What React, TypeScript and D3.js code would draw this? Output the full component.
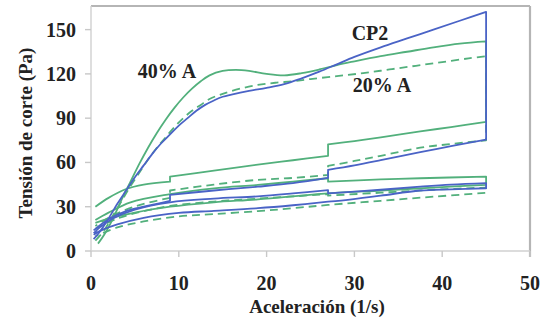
import React from 'react';
import * as d3 from 'd3';

// tick values
const xTicks = [0, 10, 20, 30, 40, 50];
const yTicks = [0, 30, 60, 90, 120, 150];

// CP2 (blue) - first cycle: up ramp, then down ramp with holds at 27 and 9 1/s
const cp2Up = [[0.3, 8], [1, 13], [2, 22], [3, 32], [4, 41], [5, 50], [6, 58], [7, 66], [8, 73], [9, 79], [10, 85], [11, 90], [12, 95], [13, 99], [14, 102], [15, 104.5], [16, 106], [18, 108.5], [20, 110.5], [22, 113], [24, 117], [26, 121.5], [28, 126.5], [30, 131.5], [33, 138], [36, 144], [39, 150], [42, 156], [45, 162]];
const cp2DownA = [[45, 75.5], [41, 71], [37.5, 67], [33, 61.5], [30, 58], [27, 55]];
const cp2DownB = [[27, 49.5], [23, 46], [19, 43.6], [14, 41], [9, 38]];
const cp2DownC = [[9, 34], [6, 30], [4, 27], [2, 21.5], [0.3, 14]];
// CP2 second cycle
const cp2Up2A = [[0.3, 12], [1, 16], [2.5, 22], [5, 28], [9, 33], [14, 35.5], [19, 37], [23, 39], [27, 41.3]];
const cp2Up2B = [[27, 39], [33, 41.5], [37.5, 43.6], [41, 45], [45, 46]];
const cp2Down2 = [[45, 42.5], [41, 41.8], [37.5, 41], [33, 37.5], [29, 34.5], [27, 33.4], [23, 31], [19, 29], [14, 27.2], [10, 25.8], [6, 22.5], [3, 18], [1, 13.5], [0.3, 11]];

// 40% A (green solid)
const a40Up = [[0.8, 5], [1.5, 11], [2.5, 22], [3.5, 35], [4.5, 47], [5.5, 59], [6.5, 70], [7.5, 80], [8.5, 89], [9.5, 97], [10.5, 104], [11.5, 110], [12.5, 115], [13.5, 119], [15, 122], [16.5, 122.7], [18, 122], [20, 120], [22, 119], [24, 120.5], [26, 123], [28, 126], [30, 128.5], [33, 132], [36, 135], [39, 138], [42, 140.5], [45, 142]];
const a40DownA = [[45, 87.5], [41, 84], [37.5, 81], [33, 77], [30, 74.5], [27, 72.3]];
const a40DownB = [[27, 64.4], [23, 61.5], [19, 58.5], [14, 54.5], [9, 50.4]];
const a40DownC = [[9, 47], [6, 45], [4, 42], [2, 36], [0.5, 30]];
const a40Up2A = [[0.5, 21], [2, 26], [4.5, 33], [9, 38.5], [14, 42.5], [19, 44.8], [23, 47], [27, 49.3]];
const a40Up2B = [[27, 47], [33, 48.5], [37.5, 49.3], [45, 50.4]];
const a40Down2 = [[45, 44.8], [39, 43], [33, 41], [27, 39], [19, 35], [14, 33], [9, 30], [5, 26], [2, 22], [0.5, 19]];

// 20% A (green dashed)
const a20Up = [[0.5, 7], [1.5, 14], [2.5, 24], [3.5, 34], [4.5, 44], [5.5, 53], [6.5, 62], [7.5, 70], [8.5, 77], [9.5, 84], [10.5, 90], [11.5, 95], [12.5, 99], [13.5, 103], [15, 106.5], [17, 110], [19, 112.5], [21, 114], [23, 115], [25, 116.5], [28, 118.5], [31, 120.5], [34, 123], [37, 125.5], [40, 128], [43, 130.5], [45, 132]];
const a20DownA = [[45, 75], [41, 72.5], [37.5, 70], [33, 64.5], [30, 61], [27, 57.6]];
const a20DownB = [[27, 51.5], [23, 49.5], [19, 48.2], [14, 45], [9, 41]];
const a20DownC = [[9, 36], [6, 32], [4, 28], [2, 22.5], [0.5, 17]];
const a20Up2A = [[0.5, 15], [3, 22], [6, 27], [9, 30.5], [14, 33.5], [19, 35.5], [27, 38.5]];
const a20Up2B = [[27, 37.5], [33, 39.5], [39, 41.5], [45, 43]];
const a20Down2 = [[45, 39.4], [39, 36.8], [33, 34], [27, 31.2], [23, 29], [19, 27], [14, 25], [10, 23.5], [6, 20], [3, 16], [0.5, 10]];

const GREEN = '#52b07c';
const BLUE = '#4a63c6';

const series = [
  { name: '40% A', color: GREEN, dash: null, runs: [[a40Up, a40DownA, a40DownB, a40DownC], [a40Up2A, a40Up2B, a40Down2]] },
  { name: '20% A', color: GREEN, dash: '8,5', runs: [[a20Up, a20DownA, a20DownB, a20DownC], [a20Up2A, a20Up2B, a20Down2]] },
  { name: 'CP2', color: BLUE, dash: null, runs: [[cp2Up, cp2DownA, cp2DownB, cp2DownC], [cp2Up2A, cp2Up2B, cp2Down2]] },
];

const W = 546;
const H = 324;
const left = 91, right = 530, top = 6, bottom = 251;

export default function App() {
  const x = d3.scaleLinear().domain([0, 50]).range([left, right]);
  const y = d3.scaleLinear().domain([0, 166]).range([bottom, top]);

  const smooth = d3.line<number[]>()
    .x(d => x(d[0]))
    .y(d => y(d[1]))
    .curve(d3.curveCatmullRom.alpha(0.5));

  // join segments of a run, straight jumps between them
  const runPath = (segs: number[][][]) => {
    let d = '';
    segs.forEach((s, i) => {
      const p = smooth(s) || '';
      if (i === 0) d += p;
      else d += 'L' + p.slice(1);
    });
    return d;
  };

  const font = 'Times New Roman';

  return (
    <svg width={W} height={H} style={{ position: 'absolute', left: 0, top: 0 }}>
      <rect width={W} height={H} fill="#fff" />
      {/* frame */}
      <line x1={left} x2={right} y1={top} y2={top} stroke="#b5b5b5" strokeWidth={2.2} />
      <line x1={right} x2={right} y1={top} y2={bottom + 6} stroke="#b5b5b5" strokeWidth={2.2} />
      <line x1={left} x2={left} y1={top} y2={bottom} stroke="#d0d0d0" strokeWidth={1.4} />
      <line x1={left} x2={right} y1={bottom} y2={bottom} stroke="#d0d0d0" strokeWidth={1.4} />
      {yTicks.map(t => (
        <g key={'y' + t}>
          <line x1={left - 6} x2={left} y1={y(t)} y2={y(t)} stroke="#c8c8c8" strokeWidth={1.4} />
          <text x={76} y={y(t)} dy="0.35em" textAnchor="end" fontFamily={font} fontWeight="bold" fontSize={20} fill="#222">{t}</text>
        </g>
      ))}
      {xTicks.map(t => (
        <g key={'x' + t}>
          <line x1={x(t)} x2={x(t)} y1={bottom} y2={bottom + 6} stroke="#c8c8c8" strokeWidth={1.4} />
          <text x={x(t)} y={290} textAnchor="middle" fontFamily={font} fontWeight="bold" fontSize={20} fill="#222">{t}</text>
        </g>
      ))}
      {/* data */}
      {series.map(s => s.runs.map((r, i) => (
        <path key={s.name + i} d={runPath(r)} fill="none" stroke={s.color} strokeWidth={1.8}
          strokeDasharray={s.dash || undefined} strokeLinejoin="round" />
      )))}
      {/* labels */}
      <text x={167} y={77.5} textAnchor="middle" fontFamily={font} fontWeight="bold" fontSize={20} fill="#222">40% A</text>
      <text x={370} y={39.5} textAnchor="middle" fontFamily={font} fontWeight="bold" fontSize={20} fill="#222">CP2</text>
      <text x={382} y={91.5} textAnchor="middle" fontFamily={font} fontWeight="bold" fontSize={20} fill="#222">20% A</text>
      <text x={317} y={313} textAnchor="middle" fontFamily={font} fontWeight="bold" fontSize={19} fill="#222">Aceleración (1/s)</text>
      <text transform="translate(32,133) rotate(-90)" textAnchor="middle" fontFamily={font} fontWeight="bold" fontSize={19} fill="#222">Tensión de corte (Pa)</text>
    </svg>
  );
}
